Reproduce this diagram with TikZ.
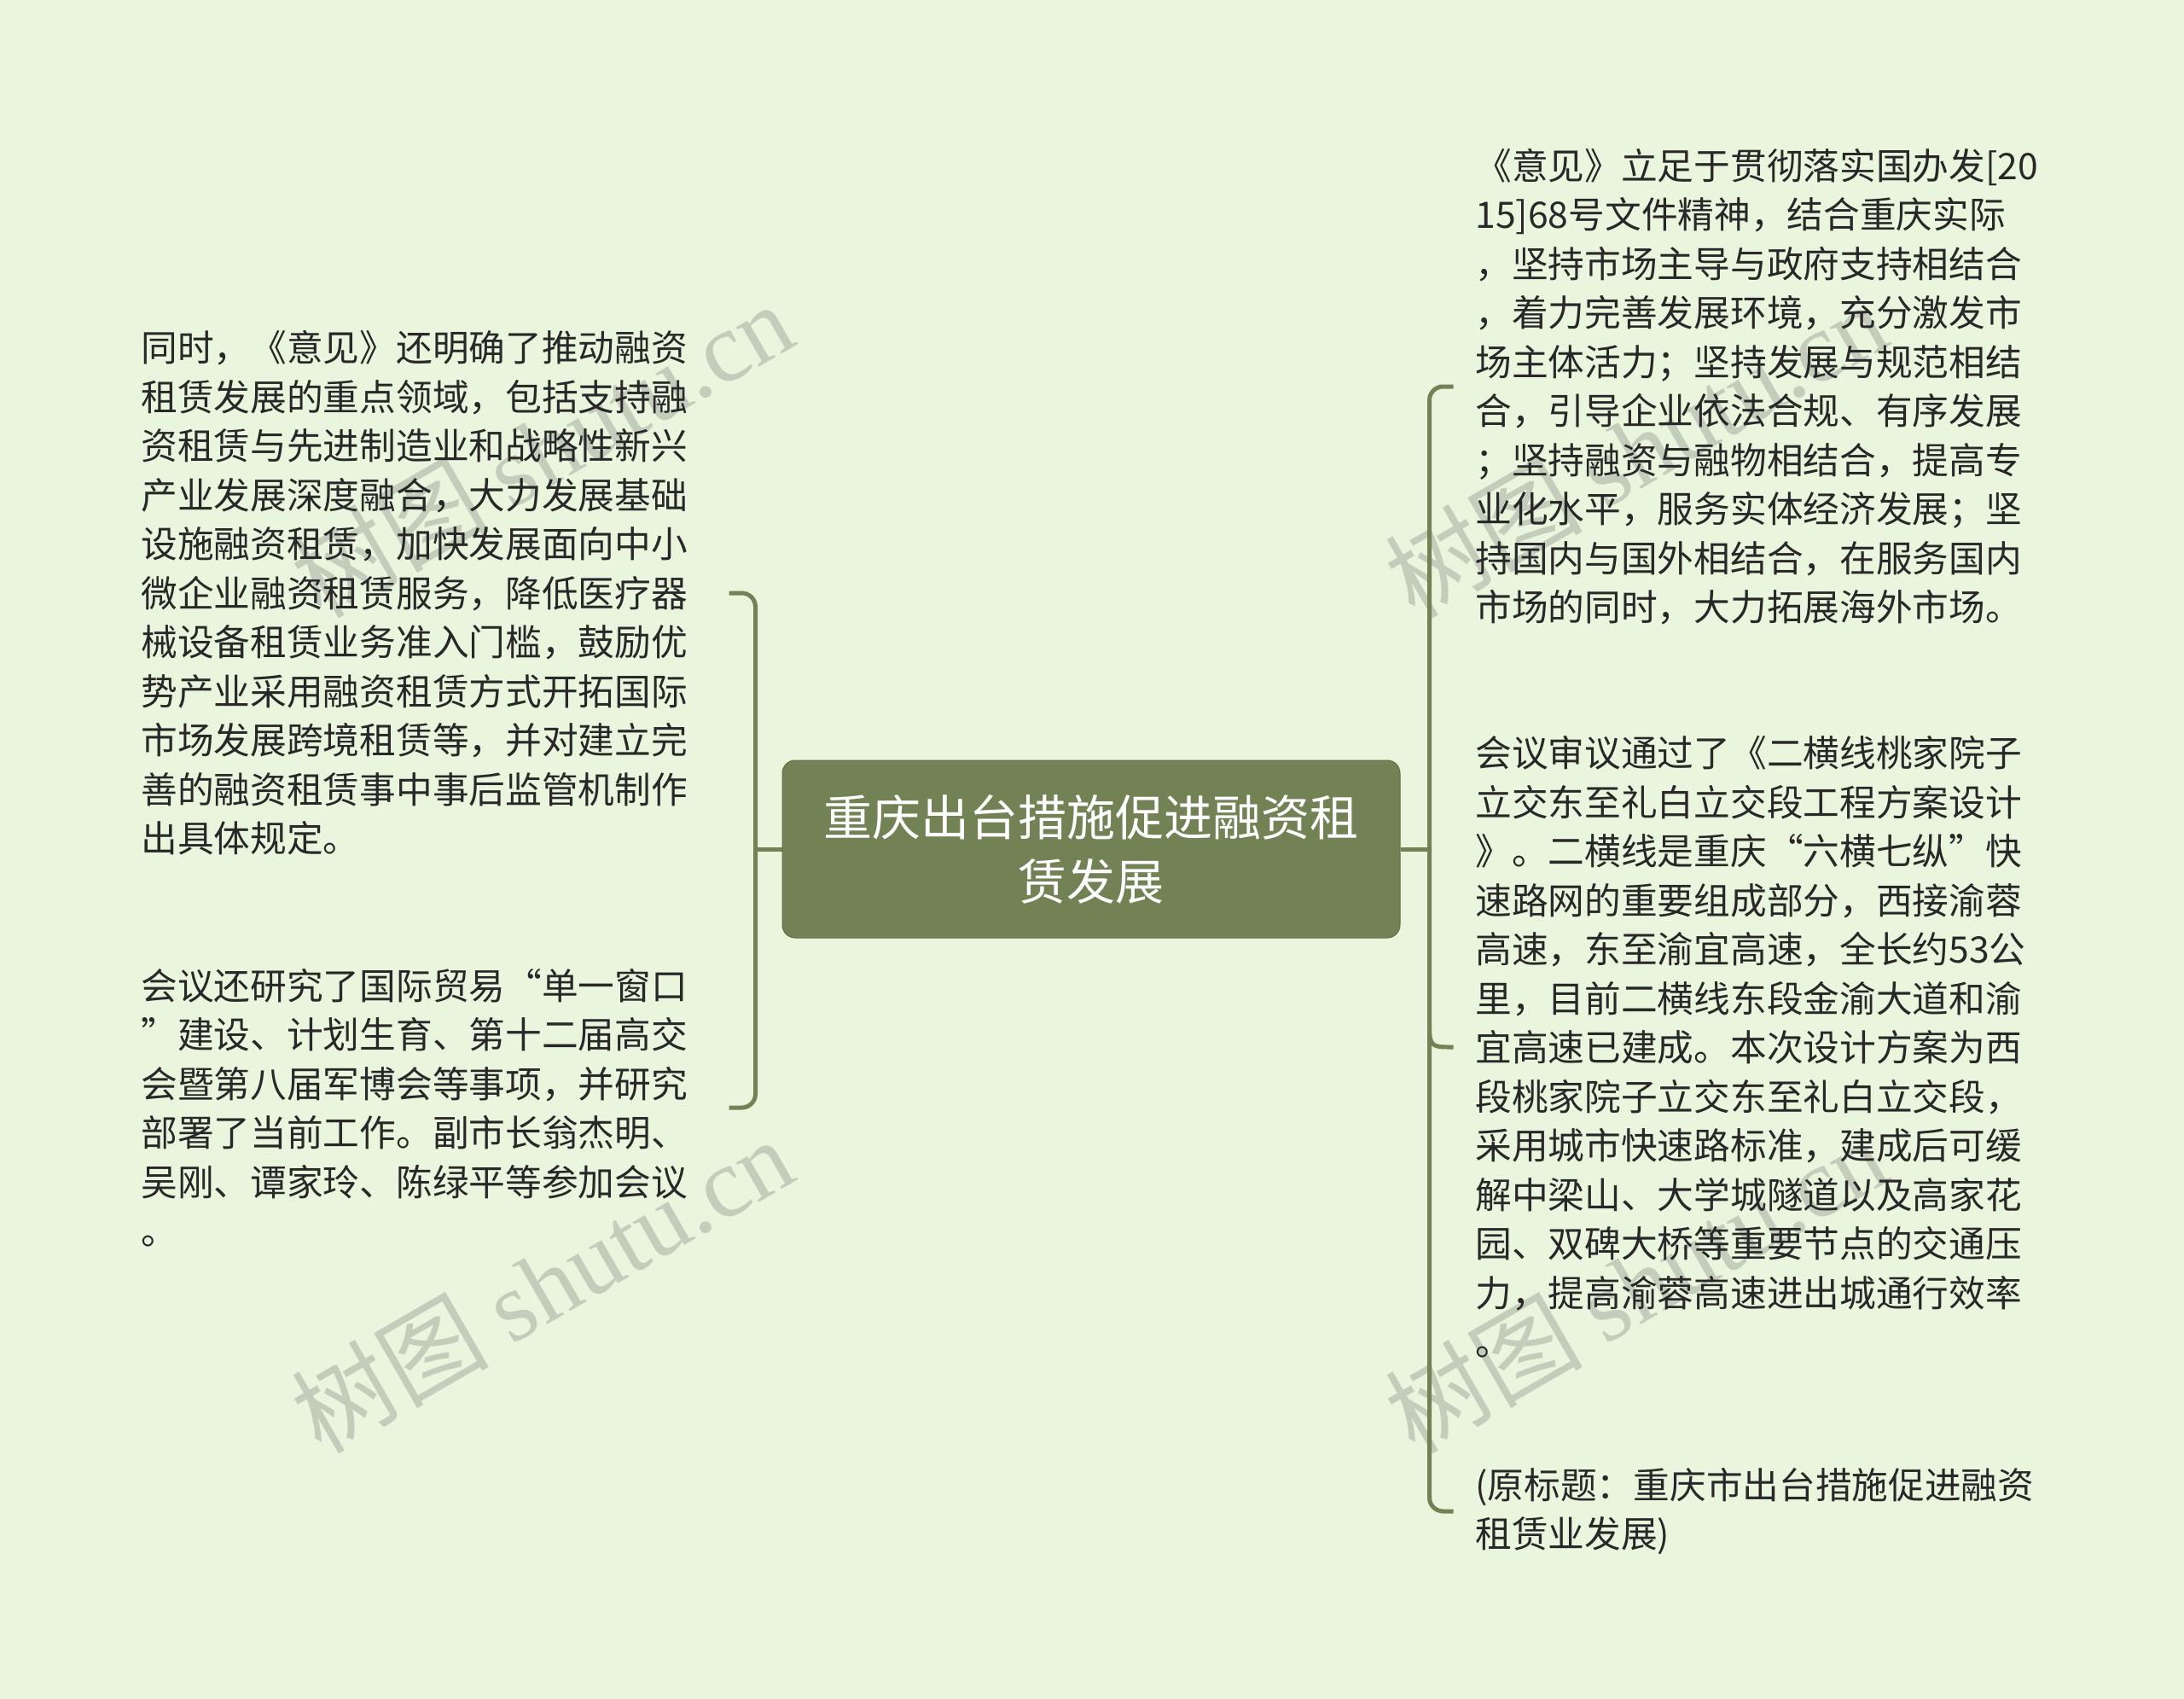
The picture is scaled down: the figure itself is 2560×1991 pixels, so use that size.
\documentclass[tikz,border=0pt]{standalone}
\usepackage{fontspec}
\setmainfont{Noto Sans CJK SC}
\newfontfamily\wmlatin{Liberation Serif}
\usetikzlibrary{calc}
\definecolor{bg}{RGB}{233,245,221}
\definecolor{olive}{RGB}{115,130,84}
\definecolor{txt}{RGB}{40,40,40}
\definecolor{wmc}{RGB}{196,204,188}
\newcommand\qL{\makebox[1em][r]{“}}
\newcommand\qR{\makebox[1em][l]{”}}
\begin{document}
\begin{tikzpicture}[x=0.5pt,y=-0.5pt,
  leaf/.style={anchor=west, inner sep=0pt, align=left, text=txt, font=\fontsize{21.35pt}{28.75pt}\selectfont},
  rootbox/.style={fill=olive, draw=olive!85!black, line width=0.5pt, rounded corners=7.5pt, minimum width=362pt, minimum height=104pt, inner sep=0pt, align=center, text=white, font=\fontsize{28.5pt}{37.5pt}\selectfont},
  conn/.style={draw=olive, line width=2.5pt},
  wm/.style={text=wmc, font=\fontsize{58pt}{62pt}\selectfont, rotate=30, inner sep=0pt}]
\fill[bg] (0,0) rectangle (2560,1991);
\useasboundingbox (0,0) rectangle (2560,1991);
% watermarks
\node[wm] (w1) at (635,526) {树图 {\wmlatin shutu.cn}};
\node[wm] (w2) at (635,1505) {树图 {\wmlatin shutu.cn}};
\node[wm] (w3) at (1917,526) {树图 {\wmlatin shutu.cn}};
\node[wm] (w4) at (1917,1505) {树图 {\wmlatin shutu.cn}};
% root
\node[rootbox] (root) at (1279,995) {重庆出台措施促进融资租\\赁发展};
% leaves
\node[leaf] (l1) at (165,695) {同时，《意见》还明确了推动融资\\
租赁发展的重点领域，包括支持融\\
资租赁与先进制造业和战略性新兴\\
产业发展深度融合，大力发展基础\\
设施融资租赁，加快发展面向中小\\
微企业融资租赁服务，降低医疗器\\
械设备租赁业务准入门槛，鼓励优\\
势产业采用融资租赁方式开拓国际\\
市场发展跨境租赁等，并对建立完\\
善的融资租赁事中事后监管机制作\\
出具体规定。};
\node[leaf] (l2) at (165,1298) {会议还研究了国际贸易\qL 单一窗口\\
\qR 建设、计划生育、第十二届高交\\
会暨第八届军博会等事项，并研究\\
部署了当前工作。副市长翁杰明、\\
吴刚、谭家玲、陈绿平等参加会议\\
。};
\node[leaf] (r1) at (1729,453) {《意见》立足于贯彻落实国办发[20\\
15]68号文件精神，结合重庆实际\\
，坚持市场主导与政府支持相结合\\
，着力完善发展环境，充分激发市\\
场主体活力；坚持发展与规范相结\\
合，引导企业依法合规、有序发展\\
；坚持融资与融物相结合，提高专\\
业化水平，服务实体经济发展；坚\\
持国内与国外相结合，在服务国内\\
市场的同时，大力拓展海外市场。};
\node[leaf] (r2) at (1729,1227) {会议审议通过了《二横线桃家院子\\
立交东至礼白立交段工程方案设计\\
》。二横线是重庆\qL 六横七纵\qR 快\\
速路网的重要组成部分，西接渝蓉\\
高速，东至渝宜高速，全长约53公\\
里，目前二横线东段金渝大道和渝\\
宜高速已建成。本次设计方案为西\\
段桃家院子立交东至礼白立交段，\\
采用城市快速路标准，建成后可缓\\
解中梁山、大学城隧道以及高家花\\
园、双碑大桥等重要节点的交通压\\
力，提高渝蓉高速进出城通行效率\\
。};
\node[leaf] (r3) at (1729,1771) {(原标题：重庆市出台措施促进融资\\
租赁业发展)};
% connectors
\coordinate (lj) at ($(root.west)+(-31,0)$);
\coordinate (rj) at ($(root.east)+(34,0)$);
\draw[conn] (root.west) -- (lj);
\draw[conn, rounded corners=8pt] ($(lj|-l1)+(-31,0)$) -- (lj|-l1) -- (lj|-l2) -- ($(lj|-l2)+(-31,0)$);
\draw[conn] (root.east) -- (rj);
\draw[conn, rounded corners=8pt] ($(rj|-r1)+(28,0)$) -- (rj|-r1) -- (rj|-r3) -- ($(rj|-r3)+(28,0)$);
\draw[conn] ($(rj|-r2)+(0,-22)$) .. controls ($(rj|-r2)+(0,-2)$) and ($(rj|-r2)+(4,0)$) .. ($(rj|-r2)+(22,0)$) -- ($(rj|-r2)+(28,0)$);
\end{tikzpicture}
\end{document}
